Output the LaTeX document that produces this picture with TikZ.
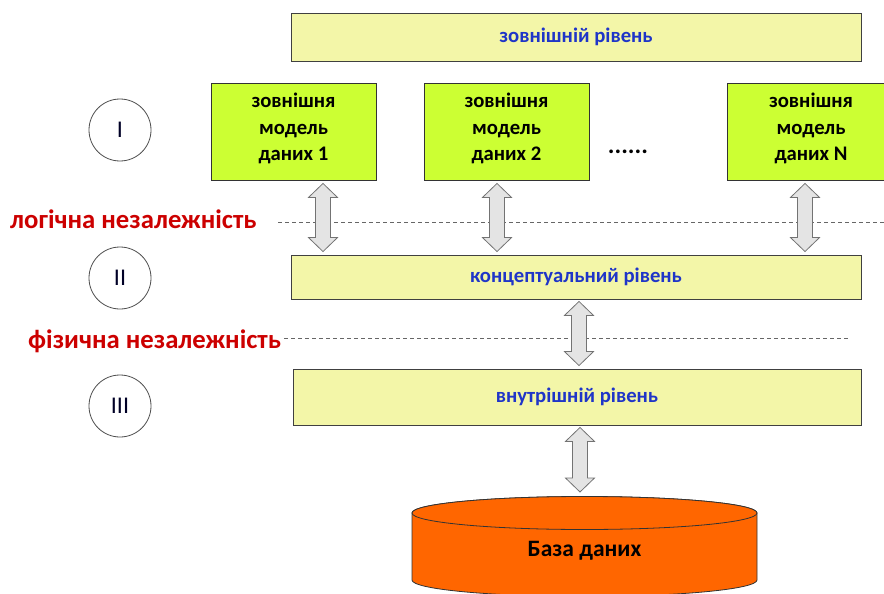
\documentclass[tikz,border=0pt]{standalone}
\usepackage{fontspec}
\setmainfont{Carlito}
\usetikzlibrary{calc}
\definecolor{paleyellow}{HTML}{F3F6A8}
\definecolor{lime}{HTML}{CCFF33}
\definecolor{levelblue}{HTML}{1F35C8}
\definecolor{indred}{HTML}{CC0000}
\definecolor{dborange}{HTML}{FF6600}
\definecolor{arrowgray}{HTML}{E4E4E4}
\tikzset{
  level/.style={draw=black!75, line width=0.9pt, fill=paleyellow, inner sep=0pt,
    font=\fontsize{20.7}{24}\selectfont\bfseries, text=levelblue},
  model/.style={draw=black!80, line width=0.9pt, fill=lime, inner sep=0pt,
    font=\fontsize{20.7}{26.5}\selectfont\bfseries, align=center},
  roman/.style={circle, draw=black!70, line width=0.8pt, minimum size=62pt,
    font=\fontsize{24}{26}\selectfont, text=black!85!blue},
  indep/.style={font=\fontsize{26.7}{30}\selectfont\bfseries, text=indred},
  sepline/.style={draw=black!60, line width=0.8pt, dash pattern=on 4pt off 3pt},
  fatarrow/.style={draw=black!55, line width=0.8pt, fill=arrowgray, line join=miter},
}
% double-headed block arrow between two named points (top, bottom)
\newcommand\blockarrow[2]{%
  \path[fatarrow] let \p1=(#1), \p2=(#2) in
    (\x1,\y1) -- (\x1+14.5pt,\y1-14pt) -- (\x1+7.5pt,\y1-14pt)
    -- (\x1+7.5pt,\y2+14pt) -- (\x1+14.5pt,\y2+14pt) -- (\x1,\y2)
    -- (\x1-14.5pt,\y2+14pt) -- (\x1-7.5pt,\y2+14pt)
    -- (\x1-7.5pt,\y1-14pt) -- (\x1-14.5pt,\y1-14pt) -- cycle;}
\begin{document}
\begin{tikzpicture}[x=1pt,y=-1pt]
  \useasboundingbox (0,0) rectangle (884,594);
  \clip (0,0) rectangle (884,594);

  % level boxes
  \node[level, minimum width=570pt, minimum height=48pt] (ext) at (576,37) {зовнішній рівень};
  \node[level, minimum width=570pt, minimum height=44pt] (conc) at (576,277) {концептуальний рівень};
  \node[level, minimum width=568pt, minimum height=56pt] (int) at (577,397) {внутрішній рівень};

  % external data models
  \node[model, minimum width=165pt, minimum height=97pt] (m1) at (293.5,131.5) {};
  \node[model, minimum width=165pt, minimum height=97pt] (m2) at (506.5,131.5) {};
  \node[model, minimum width=168pt, minimum height=97pt] (mN) at (811,131.5) {};
  \foreach \m/\n in {m1/1, m2/2, mN/N}
    \node[model, draw=none, fill=none] (\m t) at ($(\m)+(0,-3)$) {зовнішня\\модель\\даних \n};
  \node[font=\fontsize{25}{26}\selectfont\bfseries] (dots) at (628,152) {......};

  % level numbers
  \node[roman] (r1) at (120,130) {I};
  \node[roman] (r2) at (120,278) {II};
  \node[roman] (r3) at (120,406) {III};

  % independence lines
  \node[indep, anchor=west, inner sep=0pt] (logic) at (10,219) {логічна незалежність};
  \node[indep, anchor=west, inner sep=0pt] (phys) at (28,341) {фізична незалежність};
  \coordinate (l0) at (278,222);
  \coordinate (l1) at (884,222);
  \coordinate (p0) at (284,338);
  \coordinate (p1) at (848,338);
  \draw[sepline] (l0) -- (l1);
  \draw[sepline] (p0) -- (p1);

  % database cylinder
  \fill[dborange, draw=black!80, line width=0.8pt]
    (412,513) -- (412,580) arc[start angle=180, end angle=360, x radius=172.5pt, y radius=16.5pt]
    -- (757,513) arc[start angle=0, end angle=180, x radius=172.5pt, y radius=16.5pt] -- cycle;
  \draw[fill=dborange, draw=black!80, line width=0.8pt] (584.5,513) ellipse[x radius=172.5pt, y radius=16.5pt];
  \node[font=\fontsize{23.5}{26}\selectfont\bfseries] (db) at (584.5,551) {База даних};
  \coordinate (dbtop) at (580,492);

  % block arrows between levels
  \blockarrow{$(m1.south)+(29.5,3)$}{$(conc.north)+(-253,-3)$}
  \blockarrow{$(m2.south)+(-9.5,3)$}{$(conc.north)+(-79,-3)$}
  \blockarrow{$(mN.south)+(-6,3)$}{$(conc.north)+(229,-3)$}
  \blockarrow{$(conc.south)+(3,2)$}{$(int.north)+(2,-3)$}
  \blockarrow{$(int.south)+(3,2)$}{dbtop}
\end{tikzpicture}
\end{document}
